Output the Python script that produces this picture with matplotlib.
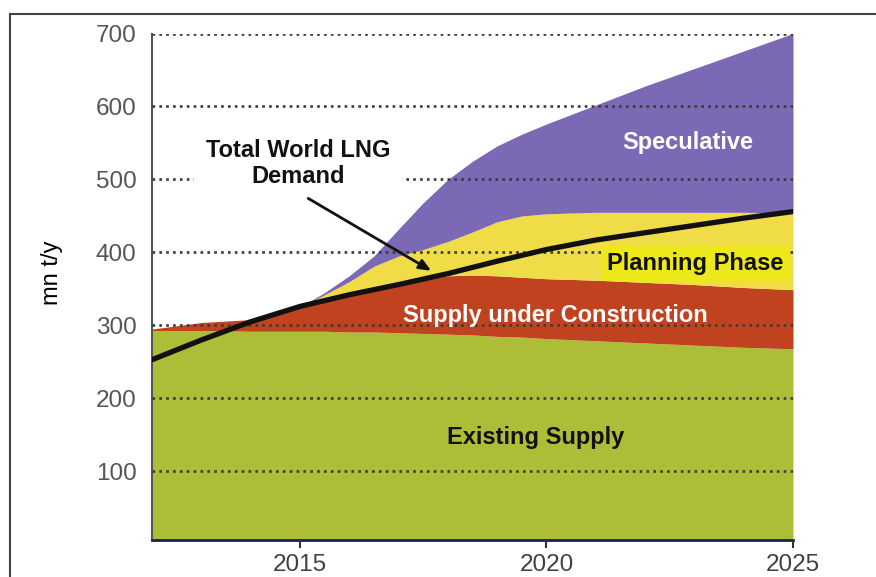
import numpy as np
import matplotlib
matplotlib.use("Agg")
import matplotlib.pyplot as plt
from matplotlib.lines import Line2D

plt.rcParams['font.family'] = ['Liberation Sans', 'DejaVu Sans']

# stacked supply layers (cumulative tops, mn t/y)
years = [2012, 2013, 2014, 2015, 2015.5, 2016, 2016.5, 2017, 2017.5, 2018, 2018.5,
         2019, 2019.5, 2020, 2021, 2022, 2023, 2024, 2025]
existing = [293, 293, 292, 292, 292, 291, 291, 290, 289, 288, 287,
            285, 284, 282, 279, 276, 273, 270, 268]
construction = [295, 304, 308, 325, 334, 342, 350, 357, 363, 368, 369,
                368, 366, 364, 362, 359, 356, 352, 349]
planning = [295, 304, 308, 325, 342, 360, 381, 395, 404, 415, 428,
            442, 450, 453, 455, 455, 455, 455, 454]
speculative = [295, 304, 308, 325, 345, 368, 395, 432, 468, 500, 525,
               546, 562, 576, 602, 628, 652, 676, 700]

# total world LNG demand
demand_years = [2012, 2013, 2014, 2015, 2016, 2017, 2018, 2019, 2020, 2021, 2022, 2023, 2024, 2025]
demand = [253, 280, 305, 326, 342, 356, 371, 388, 404, 417, 427, 437, 447, 456]

y_ticks = [100, 200, 300, 400, 500, 600, 700]
x_ticks = [2015, 2020, 2025]

fig = plt.figure(figsize=(8.76, 5.77), dpi=100)
ax = fig.add_axes([152/876, 1-540/577, (793-152)/876, (540-33.5)/577])

ymin = 6
ax.fill_between(years, ymin, existing, color='#aebd38', lw=0, zorder=1)
ax.fill_between(years, existing, construction, color='#c1421e', lw=0, zorder=1)
ax.fill_between(years, construction, planning, color='#f0dc46', lw=0, zorder=1)
ax.fill_between(years, planning, speculative, color='#7b69b5', lw=0, zorder=1)

ax.plot(demand_years, demand, color='#111111', lw=3.8, solid_capstyle='round', zorder=3)

ax.set_xlim(2012, 2025)
ax.set_ylim(ymin, 700)

# dotted grid drawn over the areas
ax.set_axisbelow(False)
ax.yaxis.grid(True, color='#3a3a3a', ls=(0, (1, 1.6)), lw=1.9)
ax.xaxis.grid(False)

ax.set_yticks(y_ticks)
ax.set_xticks(x_ticks)
ax.tick_params(axis='y', length=0, pad=11, labelsize=17.5, labelcolor='#555555')
ax.tick_params(axis='x', length=6, width=1.5, color='#333333', pad=4,
               labelsize=17.5, labelcolor='#404040')

for s in ['top', 'right']:
    ax.spines[s].set_visible(False)
ax.spines['left'].set_color('#555555')
ax.spines['left'].set_linewidth(1.5)
ax.spines['bottom'].set_color('#1c1f5e')
ax.spines['bottom'].set_linewidth(2)

fig.text(52/876, 1-273/577, 'mn t/y', rotation=90, ha='center', va='center',
         fontsize=17, color='black')

# labels
ax.text(2014.96, 522, 'Total World LNG\nDemand', ha='center', va='center',
        fontsize=17, fontweight='bold', color='#111111', linespacing=1.15,
        bbox=dict(boxstyle='square,pad=0.5', fc='white', ec='none'), zorder=4)
ax.annotate('', xy=(2017.71, 373), xytext=(2015.12, 476),
            arrowprops=dict(arrowstyle='-|>,head_length=0.7,head_width=0.3',
                            color='#111111', lw=2), zorder=4)
ax.text(2022.86, 551, 'Speculative', ha='center', va='center',
        fontsize=17, fontweight='bold', color='white', zorder=4)
ax.text(2023.02, 385, 'Planning Phase', ha='center', va='center',
        fontsize=17, fontweight='bold', color='#111111',
        bbox=dict(boxstyle='square,pad=0.25', fc='#ece81a', ec='none'), zorder=4)
ax.text(2020.19, 313, 'Supply under Construction', ha='center', va='center',
        fontsize=17, fontweight='bold', color='white', zorder=4)
ax.text(2019.79, 146, 'Existing Supply', ha='center', va='center',
        fontsize=17, fontweight='bold', color='#111111', zorder=4)

# outer frame (left and top edges)
fig.add_artist(Line2D([10/876, 10/876], [0, 1-14/577], transform=fig.transFigure,
                      color='#444444', lw=1.5))
fig.add_artist(Line2D([10/876, 1], [1-14/577, 1-14/577], transform=fig.transFigure,
                      color='#444444', lw=1.5))

fig.savefig('out.png', dpi=100)
